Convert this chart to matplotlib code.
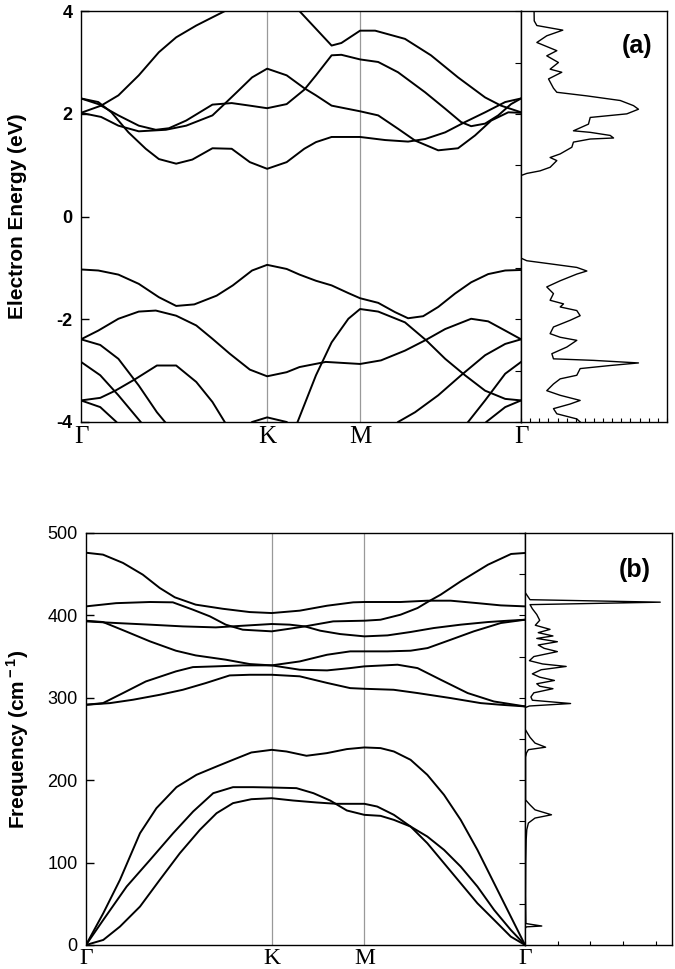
import matplotlib
matplotlib.use('Agg')
import matplotlib.pyplot as plt
from matplotlib.ticker import MultipleLocator

plt.rcParams['font.family'] = 'Liberation Sans'
plt.rcParams['axes.unicode_minus'] = False
plt.rcParams['mathtext.fontset'] = 'custom'
plt.rcParams['mathtext.rm'] = 'Liberation Sans:bold'
plt.rcParams['mathtext.bf'] = 'Liberation Sans:bold'

# high symmetry points along G-K-M-G (units of 2pi/a)
kpts = [0.0, 0.667, 1.0, 1.577]
klabels = ['\u0393', 'K', 'M', '\u0393']

################################################################################
############################ (a) electron bands ################################
################################################################################
cbA_k = [0, 0.072, 0.134, 0.207, 0.279, 0.341, 0.413, 0.471, 0.515, 0.58, 0.667, 0.74, 0.783, 0.898, 0.933, 1.0, 1.054, 1.161, 1.254, 1.351, 1.448, 1.505, 1.577]
cbA_e = [2.02, 2.16, 2.36, 2.75, 3.2, 3.49, 3.72, 3.88, 4.0, 4.3, 4.45, 4.25, 4.0, 3.33, 3.38, 3.62, 3.62, 3.46, 3.14, 2.71, 2.32, 2.16, 2.03]
cbB_k = [0, 0.062, 0.109, 0.17, 0.232, 0.279, 0.341, 0.399, 0.471, 0.54, 0.605, 0.667, 0.737, 0.8, 0.842, 0.898, 1.0, 1.09, 1.172, 1.233, 1.305, 1.376, 1.448, 1.52, 1.577]
cbB_e = [2.3, 2.23, 2.03, 1.64, 1.32, 1.12, 1.03, 1.11, 1.33, 1.32, 1.06, 0.93, 1.06, 1.32, 1.45, 1.55, 1.55, 1.49, 1.46, 1.51, 1.64, 1.84, 2.03, 2.23, 2.3]
cbC_k = [0, 0.062, 0.134, 0.207, 0.268, 0.315, 0.377, 0.471, 0.54, 0.605, 0.667, 0.737, 0.8, 0.842, 0.898, 0.933, 1.0, 1.065, 1.136, 1.233, 1.305, 1.362, 1.398, 1.448, 1.495, 1.541, 1.577]
cbC_e = [2.3, 2.19, 1.97, 1.77, 1.69, 1.72, 1.87, 2.18, 2.21, 2.16, 2.11, 2.19, 2.47, 2.75, 3.14, 3.15, 3.06, 3.01, 2.81, 2.42, 2.1, 1.84, 1.76, 1.81, 1.97, 2.19, 2.3]
cbD_k = [0, 0.072, 0.134, 0.207, 0.304, 0.377, 0.471, 0.508, 0.558, 0.613, 0.667, 0.737, 0.8, 0.842, 0.898, 1.0, 1.065, 1.136, 1.197, 1.28, 1.351, 1.412, 1.47, 1.531, 1.577]
cbD_e = [2.02, 1.94, 1.77, 1.66, 1.69, 1.77, 1.97, 2.16, 2.42, 2.71, 2.88, 2.75, 2.5, 2.36, 2.16, 2.05, 1.97, 1.71, 1.48, 1.29, 1.33, 1.58, 1.87, 2.03, 2.02]

vb1_k = [0, 0.062, 0.134, 0.207, 0.279, 0.341, 0.406, 0.486, 0.544, 0.613, 0.667, 0.737, 0.783, 0.842, 0.898, 0.958, 1.0, 1.065, 1.125, 1.172, 1.226, 1.28, 1.34, 1.398, 1.459, 1.52, 1.577]
vb1_e = [-1.03, -1.05, -1.13, -1.31, -1.57, -1.74, -1.71, -1.54, -1.34, -1.05, -0.94, -1.02, -1.13, -1.25, -1.34, -1.49, -1.59, -1.68, -1.86, -1.98, -1.94, -1.76, -1.5, -1.28, -1.12, -1.05, -1.04]
vb2_k = [0, 0.062, 0.134, 0.207, 0.268, 0.341, 0.413, 0.471, 0.533, 0.605, 0.667, 0.737, 0.783, 0.877, 1.0, 1.075, 1.161, 1.233, 1.305, 1.398, 1.459, 1.52, 1.577]
vb2_e = [-2.39, -2.22, -1.99, -1.85, -1.83, -1.93, -2.12, -2.38, -2.67, -2.98, -3.11, -3.03, -2.93, -2.83, -2.87, -2.8, -2.61, -2.41, -2.19, -1.99, -2.04, -2.22, -2.39]
vb3_k = [0.72, 0.776, 0.842, 0.898, 0.958, 1.0, 1.065, 1.161, 1.237, 1.305, 1.376, 1.448, 1.52, 1.577]
vb3_e = [-4.6, -4.0, -3.09, -2.45, -1.99, -1.80, -1.85, -2.06, -2.41, -2.77, -3.09, -3.39, -3.55, -3.58]
vbK_k = [0.55, 0.613, 0.667, 0.737, 0.8]
vbK_e = [-4.3, -4.0, -3.91, -4.0, -4.3]
vb4a_k = [0, 0.069, 0.134, 0.207, 0.272, 0.301, 0.35]
vb4a_e = [-2.39, -2.5, -2.77, -3.29, -3.81, -4.0, -4.3]
vb4b_k = [1.09, 1.136, 1.197, 1.28, 1.362, 1.448, 1.52, 1.577]
vb4b_e = [-4.3, -4.0, -3.81, -3.48, -3.09, -2.7, -2.48, -2.39]
vb5a_k = [0, 0.069, 0.134, 0.214, 0.26]
vb5a_e = [-2.83, -3.09, -3.48, -4.0, -4.3]
vb5b_k = [1.34, 1.387, 1.448, 1.52, 1.577]
vb5b_e = [-4.3, -4.0, -3.58, -3.06, -2.83]
vb6_k = [0, 0.069, 0.123, 0.196, 0.272, 0.341, 0.413, 0.471, 0.515, 0.56]
vb6_e = [-3.58, -3.53, -3.39, -3.16, -2.9, -2.9, -3.22, -3.61, -4.0, -4.4]
vb7a_k = [0, 0.069, 0.127, 0.17]
vb7a_e = [-3.58, -3.71, -4.0, -4.3]
vb7b_k = [1.41, 1.452, 1.52, 1.577]
vb7b_e = [-4.3, -4.0, -3.71, -3.58]

# electronic DOS (arb. units)
dosA_e = [4.0, 3.81, 3.72, 3.63, 3.52, 3.39, 3.23, 3.13, 3.0, 2.87, 2.81, 2.68, 2.5, 2.42, 2.35, 2.26, 2.16, 2.09, 2.0, 1.93,
	1.8, 1.67, 1.64, 1.58, 1.53, 1.51, 1.45, 1.35, 1.22, 1.15, 1.09, 0.96, 0.89, 0.84, 0.8, -0.81, -0.86, -0.92, -0.99, -1.06,
	-1.12, -1.25, -1.37, -1.5, -1.63, -1.7, -1.76, -1.83, -1.93, -2.02, -2.15, -2.28, -2.35, -2.41, -2.54, -2.67, -2.77, -2.8,
	-2.85, -2.9, -2.96, -3.09, -3.16, -3.26, -3.39, -3.48, -3.58, -3.65, -3.74, -3.84, -3.94, -4.0]
dosA_val = [0.089, 0.09, 0.108, 0.286, 0.176, 0.108, 0.245, 0.176, 0.256, 0.199, 0.279, 0.188, 0.222, 0.245, 0.451, 0.68, 0.771, 0.805, 0.725, 0.474,
	0.462, 0.359, 0.474, 0.611, 0.634, 0.474, 0.359, 0.348, 0.268, 0.199, 0.245, 0.199, 0.130, 0.039, 0.0, 0.0, 0.039, 0.199, 0.382, 0.451,
	0.382, 0.268, 0.176, 0.222, 0.199, 0.291, 0.268, 0.382, 0.405, 0.336, 0.222, 0.199, 0.268, 0.382, 0.314, 0.211, 0.222, 0.497,
	0.805, 0.611, 0.405, 0.382, 0.268, 0.222, 0.176, 0.268, 0.405, 0.336, 0.222, 0.245, 0.382, 0.405]

################################################################################
############################ (b) phonon bands ##################################
################################################################################
phX_k = [0, 0.061, 0.133, 0.204, 0.265, 0.319, 0.394, 0.491, 0.588, 0.667, 0.768, 0.866, 0.96, 1.0, 1.13, 1.227, 1.31, 1.407, 1.49, 1.577]
phX_f = [476, 473.7, 463.6, 449.4, 433.2, 421.9, 413, 408, 404, 402.8, 405.7, 411.7, 415.8, 416.2, 416.2, 417.8, 417.8, 414.8, 412.1, 410.9]
phY_k = [0, 0.108, 0.23, 0.312, 0.384, 0.445, 0.502, 0.563, 0.667, 0.732, 0.786, 0.888, 1.0, 1.058, 1.13, 1.191, 1.227, 1.274, 1.346, 1.444, 1.527, 1.577]
phY_f = [410.9, 414.8, 416.2, 415.8, 406.9, 398.8, 388.7, 382.6, 380.6, 383.8, 386.6, 392.7, 393.5, 394.7, 400.8, 408.9, 416.2, 425.1, 441.3, 461.5, 474.5, 475.7]
phZ_k = [0, 0.108, 0.23, 0.348, 0.466, 0.563, 0.667, 0.732, 0.786, 0.841, 0.913, 1.0, 1.083, 1.166, 1.249, 1.346, 1.444, 1.516, 1.577]
phZ_f = [392.7, 390.7, 388.7, 386.6, 385.4, 387.4, 389.5, 388.7, 386.6, 381.4, 377.3, 374.5, 375.7, 379.8, 384.6, 388.7, 391.9, 393.5, 394.7]
ph4_k = [0, 0.061, 0.143, 0.23, 0.323, 0.394, 0.502, 0.588, 0.667, 0.768, 0.866, 0.949, 1.0, 1.119, 1.191, 1.274, 1.371, 1.465, 1.577]
ph4_f = [393.5, 391.9, 380.6, 368.4, 357.1, 351.4, 346.2, 340.9, 339.3, 334, 333.2, 336, 338.1, 340.1, 336, 321.9, 305.7, 295.5, 289.5]
ph5_k = [0, 0.061, 0.133, 0.215, 0.323, 0.384, 0.466, 0.563, 0.667, 0.768, 0.866, 0.949, 1.0, 1.083, 1.166, 1.227, 1.31, 1.393, 1.49, 1.577]
ph5_f = [291.5, 293.5, 305.7, 319.8, 332, 337.2, 338.1, 339.3, 339.3, 344.1, 352.2, 356.3, 356.3, 356.3, 357.1, 360.3, 370.4, 380.6, 390.7, 394.7]
ph6_k = [0, 0.086, 0.169, 0.265, 0.348, 0.43, 0.516, 0.588, 0.667, 0.768, 0.866, 0.949, 1.0, 1.105, 1.191, 1.31, 1.418, 1.49, 1.577]
ph6_f = [291.5, 293.5, 297.6, 303.6, 309.7, 317.8, 327.1, 327.9, 327.9, 326, 318, 311.7, 310.9, 309.7, 305.7, 299.6, 293.5, 291.5, 289.5]
ac1_k = [0, 0.062, 0.122, 0.194, 0.253, 0.325, 0.397, 0.469, 0.528, 0.594, 0.667, 0.72, 0.792, 0.865, 0.937, 1.0, 1.058, 1.106, 1.166, 1.226, 1.286, 1.346, 1.406, 1.466, 1.526, 1.577]
ac1_f = [0, 38.5, 79, 135.6, 166, 191.5, 206.5, 216.6, 224.7, 233.6, 236.8, 234.8, 229.6, 232.8, 237.7, 239.7, 238.9, 234.8, 224.7, 206.5, 182.2, 151.8, 115.4, 74.9, 34.4, 0]
ac2_k = [0, 0.062, 0.146, 0.23, 0.313, 0.385, 0.457, 0.528, 0.6, 0.667, 0.756, 0.817, 0.877, 0.937, 1.0, 1.058, 1.106, 1.166, 1.226, 1.286, 1.346, 1.406, 1.466, 1.526, 1.577]
ac2_f = [0, 30.4, 70.9, 103.2, 135.6, 162, 184.2, 191.5, 191.5, 191.1, 190.3, 184.2, 175.3, 163.2, 157.9, 156.7, 151.8, 143.7, 131.6, 115.4, 95.1, 70.9, 42.5, 18.2, 0]
ac3_k = [0, 0.062, 0.122, 0.194, 0.265, 0.337, 0.409, 0.469, 0.528, 0.594, 0.667, 0.744, 0.829, 0.9, 1.0, 1.046, 1.106, 1.166, 1.226, 1.286, 1.346, 1.406, 1.466, 1.526, 1.577]
ac3_f = [0, 6.1, 22.3, 46.6, 79, 111.3, 139.7, 159.9, 172.1, 176.9, 178.1, 175.3, 172.9, 171.3, 171.3, 168, 157.9, 143.7, 123.5, 99.2, 74.9, 50.6, 30.4, 10.1, 0]

# phonon DOS (arb. units)
dosB_f = [500, 428, 419, 416, 413, 408, 401, 394, 388, 383, 379, 375, 372, 368, 364, 360, 356, 350, 345, 341, 338, 334, 329, 325, 321, 317,
	314, 311, 306, 301, 297, 293, 290, 288, 262, 252, 245, 240, 237, 233, 228, 176, 170, 164, 158, 154, 148, 140, 128, 100, 60, 26, 23, 22, 20, 0]
dosB_val = [0, 0, 0.034, 0.92, 0.034, 0.05, 0.08, 0.1, 0.07, 0.17, 0.09, 0.19, 0.08, 0.22, 0.09, 0.13, 0.22, 0.06, 0.03, 0.12, 0.28, 0.11, 0.05, 0.1, 0.2, 0.08,
	0.1, 0.19, 0.06, 0.04, 0.05, 0.31, 0.03, 0, 0, 0.034, 0.068, 0.14, 0.023, 0.01, 0.004, 0.004, 0.034, 0.068, 0.18, 0.068, 0.023, 0.012, 0.008, 0.005, 0.004, 0.006, 0.114, 0.01, 0, 0]

elec_bands = [(cbA_k, cbA_e), (cbB_k, cbB_e), (cbC_k, cbC_e), (cbD_k, cbD_e),
	(vb1_k, vb1_e), (vb2_k, vb2_e), (vb3_k, vb3_e), (vbK_k, vbK_e), (vb4a_k, vb4a_e), (vb4b_k, vb4b_e),
	(vb5a_k, vb5a_e), (vb5b_k, vb5b_e), (vb6_k, vb6_e), (vb7a_k, vb7a_e), (vb7b_k, vb7b_e)]
ph_bands = [(phX_k, phX_f), (phY_k, phY_f), (phZ_k, phZ_f), (ph4_k, ph4_f), (ph5_k, ph5_f), (ph6_k, ph6_f),
	(ac1_k, ac1_f), (ac2_k, ac2_f), (ac3_k, ac3_f)]


def band_axes(ax, bands, ylim, ymajor, klsize, kpad):
	for k, e in bands:
		ax.plot(k, e, color='black', lw=1.4)
	for kp in kpts[1:3]:
		ax.axvline(kp, color='#999999', lw=0.9, zorder=0)
	ax.set_xlim(kpts[0], kpts[-1])
	ax.set_ylim(*ylim)
	ax.set_xticks(kpts)
	ax.set_xticklabels(klabels, family='Liberation Serif', fontsize=klsize)
	ax.tick_params(axis='x', length=0, pad=kpad)
	ax.yaxis.set_major_locator(MultipleLocator(ymajor))
	ax.tick_params(axis='y', direction='in', length=6, width=1, labelsize=13, pad=6)
	for sp in ax.spines.values():
		sp.set_linewidth(1.0)


def dos_axes(ax, e, val, ylim, ystep, xstep):
	ax.plot(val, e, color='black', lw=1.0)
	ax.set_xlim(0, 1)
	ax.set_ylim(*ylim)
	ax.xaxis.set_major_locator(MultipleLocator(xstep))
	ax.yaxis.set_major_locator(MultipleLocator(ystep))
	ax.tick_params(axis='x', direction='in', length=3, labelbottom=False)
	ax.tick_params(axis='y', direction='out', length=4, labelleft=False)
	for sp in ax.spines.values():
		sp.set_linewidth(1.0)


fig = plt.figure(figsize=(6.75, 9.69), dpi=100)

ax1 = fig.add_axes([0.12, 0.5645, 0.652, 0.424])
band_axes(ax1, elec_bands, (-4, 4), 2, 18, 3)
for lab in ax1.get_yticklabels():
	lab.set_fontweight('bold')
ax1d = fig.add_axes([0.772, 0.5645, 0.216, 0.424])
dos_axes(ax1d, dosA_e, dosA_val, (-4, 4), 1, 0.0625)
ax1d.text(0.795, 0.915, '(a)', transform=ax1d.transAxes, ha='center', va='center', fontsize=18, fontweight='bold')
fig.text(0.026, 0.7766, 'Electron Energy (eV)', rotation=90, ha='center', va='center', fontsize=15, fontweight='bold')

ax2 = fig.add_axes([0.1274, 0.0248, 0.6504, 0.4252])
band_axes(ax2, ph_bands, (0, 500), 100, 17, 2)
ax2d = fig.add_axes([0.7778, 0.0248, 0.2178, 0.4252])
dos_axes(ax2d, dosB_f, dosB_val, (0, 500), 50, 0.2222)
ax2d.text(0.748, 0.91, '(b)', transform=ax2d.transAxes, ha='center', va='center', fontsize=18, fontweight='bold')
fig.text(0.026, 0.2374, r'Frequency (cm$^{\bf -1}$)', rotation=90, ha='center', va='center', fontsize=15, fontweight='bold')

plt.savefig('out.png', dpi=100)
